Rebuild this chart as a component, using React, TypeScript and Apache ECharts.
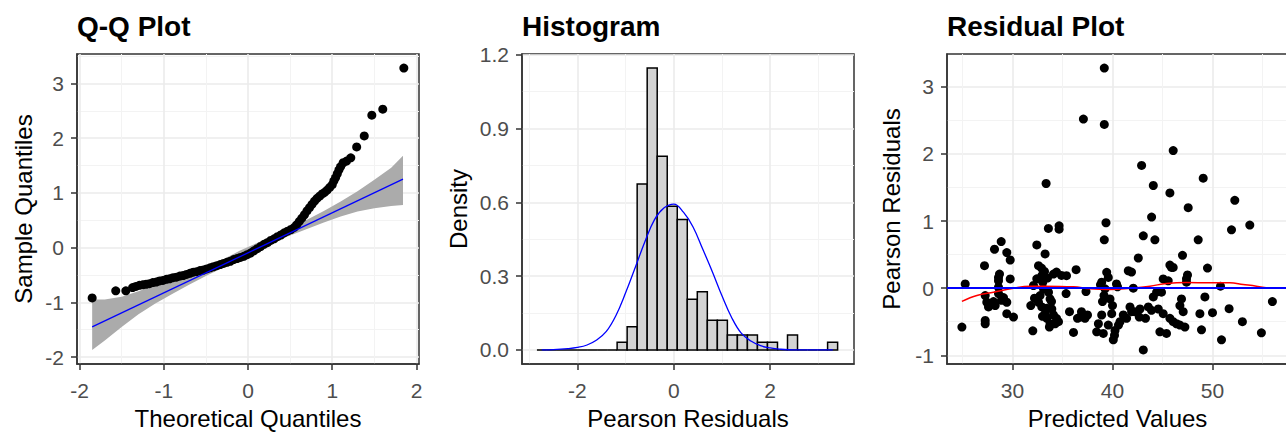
import React, { useEffect, useRef } from "react";
import * as echarts from "echarts";

const FONT = '"Liberation Sans", Arial, Helvetica, sans-serif';

// ---------- texts ----------
const panelTitles = ["Q-Q Plot", "Histogram", "Residual Plot"];
const xNames = ["Theoretical Quantiles", "Pearson Residuals", "Predicted Values"];
const yNames = ["Sample Quantiles", "Density", "Pearson Residuals"];

// ---------- tick labels ----------
const qqXTicks = [-2, -1, 0, 1, 2];
const qqYTicks = [-2, -1, 0, 1, 2, 3];
const histXTicks = [-2, 0, 2];
const histYTicks = [0, 0.3, 0.6, 0.9, 1.2];
const resXTicks = [30, 40, 50];
const resYTicks = [-1, 0, 1, 2, 3];

// ---------- Q-Q plot data ----------
const qqPoints: [number, number][] = [
  [-1.85, -0.92], [-1.57, -0.79], [-1.45, -0.79],
  [-1.37, -0.73], [-1.33, -0.71], [-1.29, -0.69], [-1.25, -0.68], [-1.21, -0.67],
  [-1.17, -0.66], [-1.13, -0.64], [-1.09, -0.63], [-1.05, -0.61], [-1.01, -0.6],
  [-0.97, -0.58], [-0.93, -0.57], [-0.89, -0.55], [-0.85, -0.54], [-0.81, -0.52],
  [-0.77, -0.51], [-0.73, -0.49], [-0.69, -0.47], [-0.65, -0.45], [-0.61, -0.44],
  [-0.57, -0.42], [-0.53, -0.41], [-0.49, -0.39], [-0.45, -0.37], [-0.41, -0.35],
  [-0.37, -0.33], [-0.33, -0.31], [-0.29, -0.29], [-0.25, -0.27], [-0.21, -0.25],
  [-0.17, -0.22], [-0.13, -0.2], [-0.09, -0.18], [-0.05, -0.16], [-0.01, -0.13],
  [0.03, -0.1], [0.07, -0.06], [0.11, -0.02], [0.15, 0.02], [0.19, 0.06],
  [0.23, 0.09], [0.27, 0.13], [0.31, 0.16], [0.35, 0.2], [0.39, 0.23],
  [0.43, 0.27], [0.47, 0.3], [0.51, 0.33], [0.55, 0.37], [0.58, 0.42],
  [0.61, 0.48], [0.64, 0.54], [0.67, 0.6], [0.7, 0.67], [0.73, 0.73],
  [0.76, 0.79], [0.79, 0.85], [0.82, 0.9], [0.85, 0.94], [0.88, 0.98],
  [0.91, 1.01], [0.94, 1.05], [0.97, 1.1], [1.0, 1.15], [1.02, 1.22],
  [1.04, 1.28], [1.06, 1.35], [1.08, 1.42], [1.1, 1.48], [1.13, 1.55],
  [1.17, 1.58], [1.22, 1.64], [1.29, 1.84], [1.38, 2.04], [1.47, 2.42],
  [1.6, 2.53], [1.85, 3.28],
];
const qqLine: [number, number][] = [[-1.85, -1.45], [1.84, 1.25]];
const qqBandX = [-1.85, -1.7, -1.5, -1.3, -1.1, -0.9, -0.7, -0.5, -0.3, -0.1, 0.1, 0.3, 0.5, 0.7, 0.9, 1.1, 1.3, 1.5, 1.7, 1.84];
const qqBandUpper = [-0.95, -0.95, -0.9, -0.8, -0.68, -0.56, -0.45, -0.34, -0.22, -0.06, 0.08, 0.22, 0.36, 0.51, 0.67, 0.84, 1.03, 1.24, 1.46, 1.68];
const qqBandLower = [-1.87, -1.7, -1.45, -1.22, -1.02, -0.85, -0.68, -0.52, -0.37, -0.15, -0.03, 0.1, 0.22, 0.34, 0.46, 0.57, 0.66, 0.72, 0.76, 0.78];

// ---------- histogram data ----------
const histEdges = [
  -2.84, -2.632, -2.424, -2.216, -2.008, -1.8, -1.592, -1.384, -1.176, -0.968, -0.76,
  -0.552, -0.344, -0.136, 0.072, 0.28, 0.488, 0.696, 0.904, 1.112, 1.32,
  1.528, 1.736, 1.944, 2.152, 2.36, 2.568, 2.776, 2.984, 3.192, 3.4,
];
const histDensity = [
  0, 0, 0, 0, 0, 0, 0, 0, 0.031, 0.094, 0.675, 1.146, 0.788, 0.584, 0.53,
  0.206, 0.236, 0.121, 0.121, 0.061, 0.061, 0.061, 0.031, 0.031, 0, 0.061, 0, 0, 0, 0.031,
];
const densityCurve: [number, number][] = [
  [-2.74, 0.0], [-2.5, 0.001], [-2.2, 0.005], [-2.0, 0.01], [-1.8, 0.02], [-1.6, 0.04],
  [-1.4, 0.075], [-1.2, 0.14], [-1.0, 0.232], [-0.8, 0.335], [-0.6, 0.44], [-0.4, 0.53],
  [-0.2, 0.578], [0.0, 0.593], [0.2, 0.56], [0.4, 0.5], [0.6, 0.41], [0.8, 0.318],
  [1.0, 0.22], [1.2, 0.132], [1.4, 0.068], [1.6, 0.036], [1.8, 0.017], [2.0, 0.008],
  [2.2, 0.003], [2.5, 0.0], [3.3, 0.0],
];

// ---------- residual plot data ----------
const residualPoints: [number, number][] = [
  [39.18, 3.28], [37.09, 2.52], [39.18, 2.44], [46.07, 2.05], [42.91, 1.83], [33.36, 1.56],
  [44.08, 1.53], [49.07, 1.64], [45.74, 1.42], [52.23, 1.31], [47.57, 1.2], [51.9, 0.87],
  [53.73, 0.94], [39.35, 0.975], [39.18, 0.72], [34.66, 0.93], [34.66, 0.88], [33.59, 0.89],
  [43.08, 0.78], [43.91, 1.06], [44.24, 0.72], [48.57, 0.72],
  [32.43, 0.645], [28.87, 0.695], [28.2, 0.58], [29.43, 0.53], [29.77, 0.42], [27.2, 0.335],
  [33.26, 0.51], [42.58, 0.45], [47.0, 0.49], [36.36, 0.276], [41.58, 0.26], [45.74, 0.345],
  [46.07, 0.31], [49.5, 0.3], [47.5, 0.197], [47.4, 0.14], [29.77, 0.138], [25.27, 0.064],
  [28.6, 0.16], [28.6, 0.11], [28.6, 0.015], [28.6, -0.08], [27.27, -0.11], [27.43, -0.21],
  [27.6, -0.28], [28.27, -0.26], [28.9, -0.18], [29.43, -0.21], [29.43, -0.38], [30.1, -0.43],
  [27.27, -0.53], [27.27, -0.48], [24.94, -0.58], [28.7, 0.21], [29.1, -0.14], [28.1, -0.2],
  [32.03, -0.635], [32.6, 0.335], [32.43, 0.14], [32.1, 0.04], [32.93, 0.187], [33.03, 0.09],
  [33.1, -0.01], [32.76, -0.11], [32.6, -0.21], [31.83, -0.26], [32.93, -0.28], [33.26, -0.38],
  [33.43, -0.45], [33.76, -0.53], [33.69, -0.58], [34.26, -0.53], [34.6, -0.5], [34.1, 0.21],
  [34.4, 0.24], [33.76, -0.16], [33.6, -0.06], [33.93, -0.31], [34.1, -0.4], [34.4, -0.45],
  [34.9, 0.19], [35.4, 0.187], [35.36, -0.08], [35.7, -0.35], [36.9, -0.35], [37.25, -0.45],
  [36.76, -0.43], [37.35, -0.05], [36.1, -0.66], [32.9, 0.3], [33.2, 0.25], [33.9, -0.2],
  [33.4, -0.3], [32.2, -0.15], [33.0, -0.42], [33.5, 0.15],
  [38.92, 0.09], [39.42, 0.236], [39.58, 0.16], [39.25, -0.01], [39.15, -0.11], [39.75, -0.16],
  [40.0, -0.26], [40.4, 0.064], [39.92, -0.38], [38.92, -0.4], [38.59, -0.53], [38.42, -0.65],
  [39.08, -0.675], [39.58, -0.55], [40.08, -0.77], [40.25, -0.63], [40.75, -0.5], [41.08, -0.4],
  [41.41, -0.45], [41.75, -0.28], [42.08, 0.0], [41.91, -0.35], [42.75, -0.31], [42.68, -0.43],
  [43.08, -0.92], [43.58, -0.28], [44.08, -0.13], [44.41, -0.06], [44.58, -0.31], [45.07, -0.38],
  [44.74, -0.65], [45.4, -0.675], [45.07, 0.138], [45.57, 0.11], [45.74, -0.45], [46.07, -0.5],
  [46.4, -0.53], [46.74, -0.55], [47.24, -0.58], [46.9, -0.16], [46.74, -0.26], [47.07, -0.35],
  [47.4, 0.09], [48.74, -0.38], [48.9, -0.62], [49.24, -0.13], [50.0, -0.365], [50.8, 0.03],
  [50.9, -0.77], [51.66, -0.305], [52.99, -0.5], [54.89, -0.665], [55.99, -0.2],
  [39.0, -0.2], [38.8, 0.05], [40.2, -0.7], [40.6, -0.55], [42.2, -0.35], [43.3, -0.45],
  [43.9, -0.33], [44.9, -0.06], [45.9, 0.31], [37.5, -0.4], [36.5, -0.45], [40.5, 0.02], [41.9, 0.24],
];
const loessCurve: [number, number][] = [
  [24.94, -0.197], [26.44, -0.11], [28.1, -0.06], [30.1, 0.0], [31.76, 0.03], [33.1, 0.03],
  [36.1, 0.02], [37.75, -0.01], [39.75, -0.02], [41.75, 0.0], [43.74, 0.03], [45.4, 0.07],
  [47.4, 0.085], [49.73, 0.08], [51.73, 0.08], [53.06, 0.055], [54.39, 0.03], [55.72, 0.0],
];
const residualZero = 0;

// ---------- axis ranges (ggplot 5% expansion) ----------
const qqXRange = [-2.03, 2.03];
const qqYRange = [-2.1275, 3.5375];
const histXRange = [-3.15, 3.74];
const histYRange = [-0.0573, 1.2033];
const resXRange = [23.45, 57.55];
const resYRange = [-1.13, 3.49];

function axis(opts: any) {
  const { ticks, range, name, gap, idx, fmt, split } = opts;
  return {
    type: "value",
    gridIndex: idx,
    min: range[0],
    max: range[1],
    splitNumber: split,
    name,
    nameLocation: "middle",
    nameGap: gap,
    nameTextStyle: { color: "#000", fontSize: 24, fontFamily: FONT },
    axisLine: { show: true, onZero: false, lineStyle: { color: "#333333", width: 1.5 } },
    axisTick: {
      show: true,
      length: 6,
      customValues: ticks,
      lineStyle: { color: "#333333", width: 1.5 },
    },
    axisLabel: {
      show: true,
      customValues: ticks,
      color: "#4D4D4D",
      fontSize: 21,
      fontFamily: FONT,
      margin: opts.margin,
      formatter: fmt || ((v: number) => String(v)),
    },
    splitLine: { show: true, lineStyle: { color: "#EBEBEB", width: 1.6 } },
    minorTick: { show: false, splitNumber: 2 },
    minorSplitLine: { show: true, lineStyle: { color: "#F3F3F3", width: 1 } },
  };
}

export default function App() {
  const ref = useRef<HTMLDivElement>(null);
  useEffect(() => {
    if (!ref.current) return;
    const chart = echarts.init(ref.current, null, { renderer: "svg" });
    const gridBase = {
      top: 54,
      height: 310,
      show: true,
      borderColor: "#333333",
      borderWidth: 1.5,
      backgroundColor: "#FFFFFF",
      containLabel: false,
      outerBoundsMode: "none",
    };
    const option: any = {
      animation: false,
      backgroundColor: "#FFFFFF",
      textStyle: { fontFamily: FONT },
      title: [
        { text: panelTitles[0], left: 77, top: 12, padding: 0 },
        { text: panelTitles[1], left: 522, top: 12, padding: 0 },
        { text: panelTitles[2], left: 947, top: 12, padding: 0 },
      ].map((t) => ({ ...t, textStyle: { fontSize: 28, fontWeight: "bold", color: "#000", fontFamily: FONT } })),
      grid: [
        { ...gridBase, left: 77, width: 342 },
        { ...gridBase, left: 522, width: 332 },
        { ...gridBase, left: 947, width: 341 },
      ],
      xAxis: [
        axis({ ticks: qqXTicks, range: qqXRange, name: xNames[0], gap: 42, idx: 0, split: 4, margin: 16 }),
        axis({ ticks: histXTicks, range: histXRange, name: xNames[1], gap: 42, idx: 1, split: 3, margin: 16 }),
        axis({ ticks: resXTicks, range: resXRange, name: xNames[2], gap: 42, idx: 2, split: 3, margin: 16 }),
      ],
      yAxis: [
        axis({ ticks: qqYTicks, range: qqYRange, name: yNames[0], gap: 42, idx: 0, split: 5, margin: 13 }),
        axis({ ticks: histYTicks, range: histYRange, name: yNames[1], gap: 52, idx: 1, split: 4, margin: 13, fmt: (v: number) => v.toFixed(1) }),
        axis({ ticks: resYTicks, range: resYRange, name: yNames[2], gap: 44, idx: 2, split: 4, margin: 13 }),
      ],
      series: [
        {
          type: "custom",
          xAxisIndex: 0,
          yAxisIndex: 0,
          silent: true,
          data: [[0, 0]],
          renderItem: (_p: any, api: any) => {
            const up = qqBandX.map((x, i) => api.coord([x, qqBandUpper[i]]));
            const lo = qqBandX.map((x, i) => api.coord([x, qqBandLower[i]])).reverse();
            return { type: "polygon", shape: { points: up.concat(lo) }, style: { fill: "#ABABAB" } };
          },
          z: 1,
        },
        {
          type: "scatter",
          xAxisIndex: 0,
          yAxisIndex: 0,
          data: qqPoints,
          symbol: "circle",
          symbolSize: 9,
          itemStyle: { color: "#000000", opacity: 1 },
          z: 2,
        },
        {
          type: "line",
          xAxisIndex: 0,
          yAxisIndex: 0,
          data: qqLine,
          symbol: "none",
          lineStyle: { color: "#0000FF", width: 1.3 },
          z: 3,
        },
        {
          type: "custom",
          xAxisIndex: 1,
          yAxisIndex: 1,
          data: histDensity.map((d, i) => [histEdges[i], histEdges[i + 1], d]),
          encode: { x: [0, 1], y: 2 },
          renderItem: (_p: any, api: any) => {
            const p0 = api.coord([api.value(0), api.value(2)]);
            const p1 = api.coord([api.value(1), 0]);
            return {
              type: "rect",
              shape: { x: p0[0], y: p0[1], width: p1[0] - p0[0], height: p1[1] - p0[1] },
              style: { fill: "#D3D3D3", stroke: "#000000", lineWidth: 1.5 },
            };
          },
          z: 2,
        },
        {
          type: "line",
          xAxisIndex: 1,
          yAxisIndex: 1,
          data: densityCurve,
          symbol: "none",
          smooth: 0.4,
          lineStyle: { color: "#0000FF", width: 1.3 },
          z: 3,
        },
        {
          type: "scatter",
          xAxisIndex: 2,
          yAxisIndex: 2,
          data: residualPoints,
          symbol: "circle",
          symbolSize: 9,
          itemStyle: { color: "#000000", opacity: 1 },
          z: 2,
          markLine: {
            silent: true,
            symbol: "none",
            label: { show: false },
            lineStyle: { color: "#0000FF", width: 2, type: "solid" },
            data: [{ yAxis: residualZero }],
          },
        },
        {
          type: "line",
          xAxisIndex: 2,
          yAxisIndex: 2,
          data: loessCurve,
          symbol: "none",
          smooth: 0.4,
          lineStyle: { color: "#FF0000", width: 1.5 },
          z: 4,
        },
      ],
    };
    chart.setOption(option);
    return () => chart.dispose();
  }, []);
  return <div ref={ref} style={{ position: "fixed", left: 0, top: 0, width: 1286, height: 434 }} />;
}
